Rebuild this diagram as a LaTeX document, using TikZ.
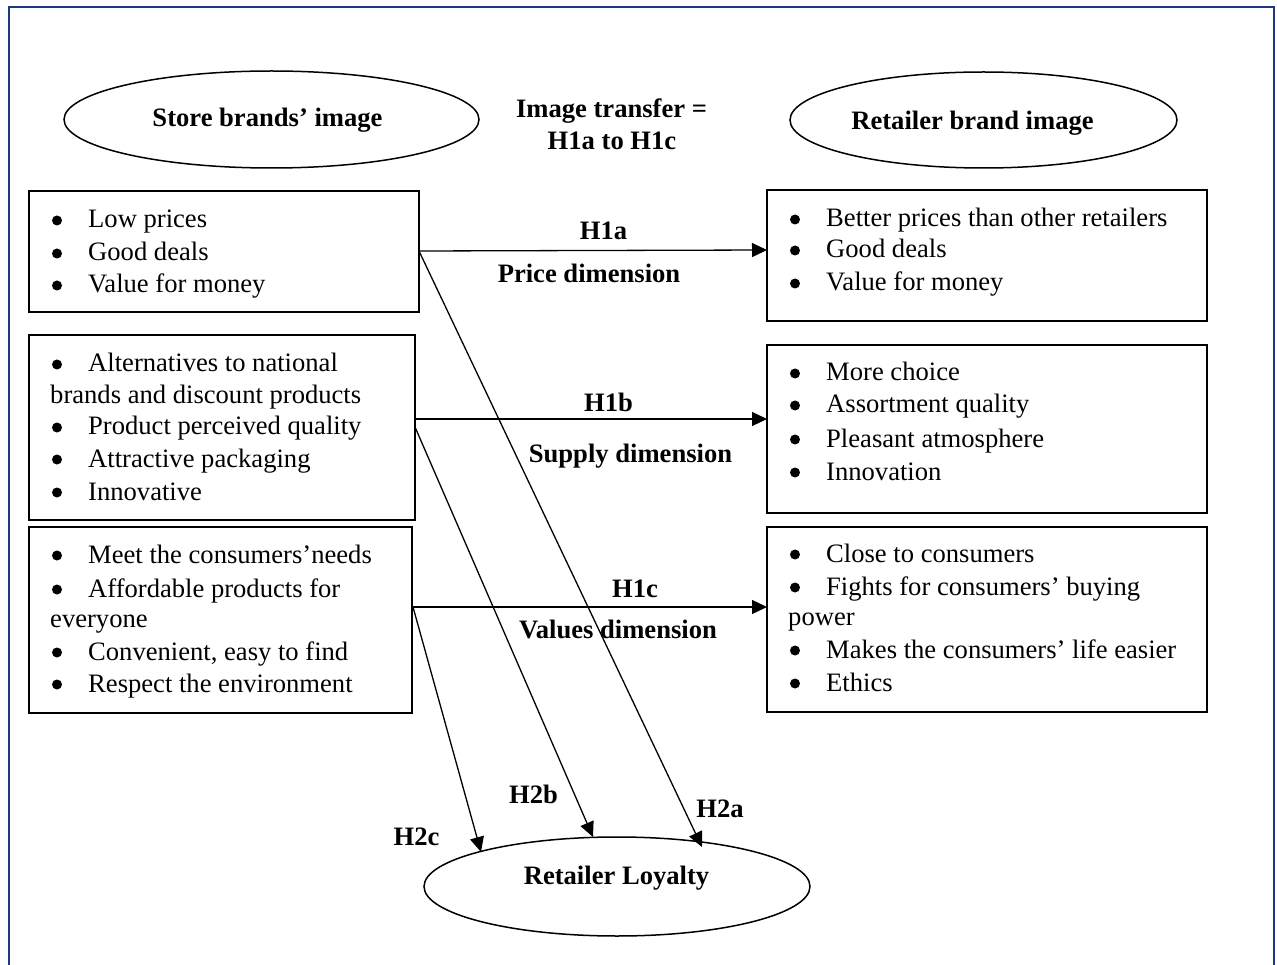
\documentclass[tikz,border=0pt]{standalone}
\usepackage{fontspec}
\setmainfont{Liberation Serif}
\usetikzlibrary{shapes.geometric,arrows.meta}
\definecolor{framecol}{RGB}{31,56,130}
\newcommand{\bitem}[4]{%
  \node[item] (#1) at (#2+38,#3) {#4};
  \fill (#2+7,#3-7.5) circle (5pt);}
\begin{document}
\begin{tikzpicture}[x=1pt,y=-1pt,
  txt/.style={font=\fontsize{26.6}{33}\selectfont, inner sep=0pt},
  item/.style={txt, anchor=base west},
  lbl/.style={inner sep=0pt, font=\fontsize{26.6}{33}\selectfont\bfseries, anchor=base},
  oval/.style={ellipse, draw, line width=1.5pt, inner sep=0pt},
  box/.style={draw, line width=1.6pt, inner sep=0pt},
  arr/.style={line width=1.3pt, -{Triangle[length=15pt,width=14pt]}},
]
\useasboundingbox (0,0) rectangle (1277,965);
\fill[white] (0,0) rectangle (1277,965);
\draw[framecol, line width=2pt] (9,965) -- (9,7) -- (1274,7) -- (1274,965);

% ovals
\node[oval, minimum width=415pt, minimum height=97pt] (sbi) at (271.5,119.5) {};
\node[oval, minimum width=387pt, minimum height=96pt] (rbi) at (983.5,120) {};
\node[oval, minimum width=386pt, minimum height=99pt] (loy) at (617,886.5) {};
\node[lbl] (sbit) at (267.5,127) {Store brands’ image};
\node[lbl] (rbit) at (972.5,130) {Retailer brand image};
\node[lbl] (loyt) at (616.5,884) {Retailer Loyalty};
\node[lbl] (it1) at (611.5,118) {Image transfer =};
\node[lbl] (it2) at (612,150) {H1a to H1c};

% boxes
\node[box, minimum width=390pt, minimum height=121pt] (L1) at (224,251.5) {};
\node[box, minimum width=386pt, minimum height=185pt] (L2) at (222,427.5) {};
\node[box, minimum width=383pt, minimum height=186pt] (L3) at (220.5,620) {};
\node[box, minimum width=440pt, minimum height=131pt] (R1) at (987,255.5) {};
\node[box, minimum width=440pt, minimum height=168pt] (R2) at (987,429) {};
\node[box, minimum width=440pt, minimum height=185pt] (R3) at (987,619.5) {};

% left items
\bitem{l11}{50}{228}{Low prices}
\bitem{l12}{50}{261}{Good deals}
\bitem{l13}{50}{293}{Value for money}
\bitem{l21}{50}{372}{Alternatives to national}
\node[item] (l22) at (50,403) {brands and discount products};
\bitem{l23}{50}{435}{Product perceived quality}
\bitem{l24}{50}{467}{Attractive packaging}
\bitem{l25}{50}{500}{Innovative}
\bitem{l31}{50}{563}{Meet the consumers’needs}
\bitem{l32}{50}{597}{Affordable products for}
\node[item] (l33) at (50,627) {everyone};
\bitem{l34}{50}{660}{Convenient, easy to find}
\bitem{l35}{50}{692}{Respect the environment}
% right items
\bitem{r11}{788}{227}{Better prices than other retailers}
\bitem{r12}{788}{258}{Good deals}
\bitem{r13}{788}{291}{Value for money}
\bitem{r21}{788}{381}{More choice}
\bitem{r22}{788}{413}{Assortment quality}
\bitem{r23}{788}{447}{Pleasant atmosphere}
\bitem{r24}{788}{480}{Innovation}
\bitem{r31}{788}{562}{Close to consumers}
\bitem{r32}{788}{595}{Fights for consumers’ buying}
\node[item] (r33) at (788,625) {power};
\bitem{r34}{788}{658}{Makes the consumers’ life easier}
\bitem{r35}{788}{691}{Ethics}

% connector end points
\coordinate (a1) at (419,251);
\coordinate (b1) at (767,250);
\coordinate (a2) at (415,419);
\coordinate (b2) at (767,419);
\coordinate (a3) at (413,607);
\coordinate (b3) at (767,607);
\coordinate (c2) at (415,427);
\coordinate (t1) at (702,847);
\coordinate (t2) at (593,837);
\coordinate (t3) at (481,852);

\draw[arr] (a1) -- (b1);
\draw[arr] (a2) -- (b2);
\draw[arr] (a3) -- (b3);
\draw[arr] (a1) -- (t1);
\draw[arr] (c2) -- (t2);
\draw[arr] (a3) -- (t3);

% arrow labels
\node[lbl] (h1a) at (603.5,240) {H1a};
\node[lbl] (pd) at (589,283) {Price dimension};
\node[lbl] (h1b) at (608.5,412) {H1b};
\node[lbl] (sd) at (630.5,462) {Supply dimension};
\node[lbl] (h1c) at (635,597) {H1c};
\node[lbl] (vd) at (618,638) {Values dimension};
\node[lbl] (h2c) at (416.5,845) {H2c};
\node[lbl] (h2b) at (533.5,803) {H2b};
\node[lbl] (h2a) at (720,817) {H2a};
\end{tikzpicture}
\end{document}
